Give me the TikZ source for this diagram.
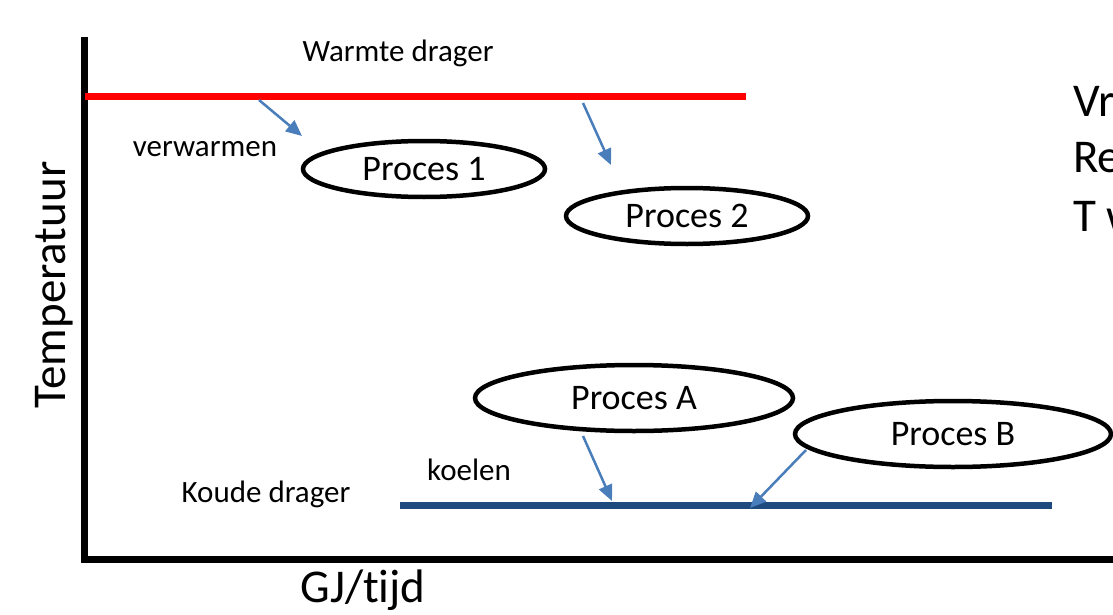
\documentclass[tikz,border=0pt]{standalone}
\usepackage{fontspec}
\setmainfont{Carlito}[Ligatures={NoCommon,NoContextual},RawFeature={-liga;-clig;-dlig;-calt}]
\usetikzlibrary{shapes.geometric,arrows.meta}
\definecolor{arrowblue}{HTML}{4A7EBB}
\definecolor{coldblue}{HTML}{1F4A7E}
\begin{document}
\begin{tikzpicture}[x=1pt,y=-1pt,
  proc/.style={draw=black,line width=4.5pt,ellipse,inner sep=0pt,font=\fontsize{36}{40}\selectfont},
  small/.style={anchor=base,inner sep=0pt,font=\fontsize{31}{36}\selectfont},
  big/.style={anchor=base,inner sep=0pt,font=\fontsize{47}{54}\selectfont},
  flow/.style={draw=arrowblue,line width=2.5pt,-{Triangle[length=16pt,width=14pt]}},
  axis/.style={line width=7pt}]
\useasboundingbox (0,0) rectangle (1113,615);
\clip (0,0) rectangle (1113,615);
% axes
\coordinate (ytop) at (84,37);
\coordinate (origin) at (84,559);
\coordinate (xend) at (1113,559);
\draw[axis] (ytop) -- (origin) -- (xend);
% carriers
\coordinate (hotL) at (85,97);
\coordinate (hotR) at (746,97);
\draw[draw=red,line width=7pt] (hotL) -- (hotR);
\coordinate (coldL) at (400,505);
\coordinate (coldR) at (1052,505);
\draw[draw=coldblue,line width=7pt] (coldL) -- (coldR);
% processes
\node[proc,minimum width=242pt,minimum height=56pt] (p1) at (424,169) {Proces 1};
\node[proc,minimum width=242pt,minimum height=56pt] (p2) at (687,216) {Proces 2};
\node[proc,minimum width=318pt,minimum height=66pt] (pA) at (634,398) {Proces A};
\node[proc,minimum width=316pt,minimum height=66pt] (pB) at (953,434) {Proces B};
% arrows
\coordinate (a1s) at (259,100);
\coordinate (a1e) at (302,136);
\coordinate (a2s) at (583,103);
\coordinate (a2e) at (611,165);
\coordinate (a3s) at (583,436);
\coordinate (a3e) at (612,501);
\coordinate (a4s) at (806,450);
\coordinate (a4e) at (750,508);
\draw[flow] (a1s) -- (a1e);
\draw[flow] (a2s) -- (a2e);
\draw[flow] (a3s) -- (a3e);
\draw[flow] (a4s) -- (a4e);
% labels
\node[small] (lwarm) at (398,62) {Warmte drager};
\node[small] (lverw) at (205,156) {verwarmen};
\node[small] (lkoud) at (266,502) {Koude drager};
\node[small] (lkoel) at (469,480) {koelen};
\node[big] (lx) at (363,602) {GJ/tijd};
\node[big,rotate=90] (ly) at (65,285) {Temperatuur};
\node[big,anchor=base west] (r1) at (1073,117) {Vr};
\node[big,anchor=base west] (r2) at (1073,172) {Re};
\node[big,anchor=base west] (r3) at (1073,231) {T w};
\end{tikzpicture}
\end{document}
